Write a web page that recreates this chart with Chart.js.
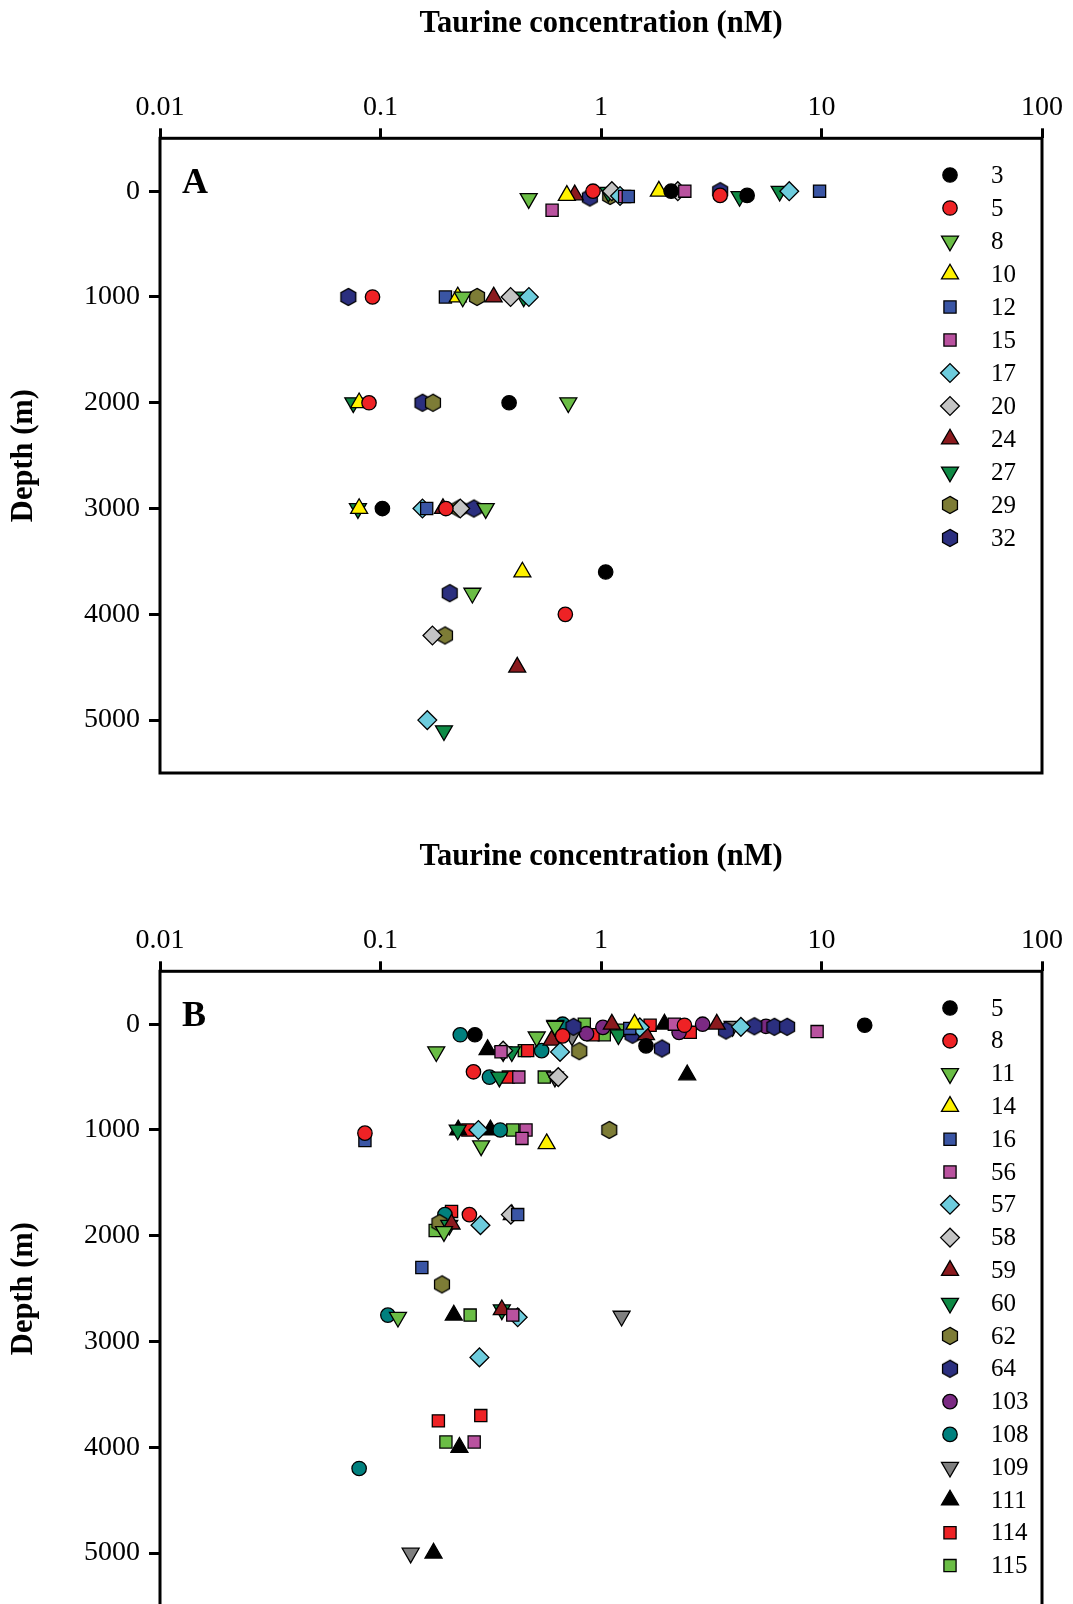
<!DOCTYPE html>
<html><head><meta charset="utf-8">
<script src="https://cdn.jsdelivr.net/npm/chart.js@4"></script>
<style>
html,body{margin:0;padding:0;background:#fff;overflow:hidden;width:1073px;height:1604px;}
.wrap{position:absolute;left:0;width:1073px;height:800px;}
canvas{display:block;}
</style></head><body>
<div class="wrap" style="top:0"><canvas id="cA" width="1073" height="800"></canvas></div>
<div class="wrap" style="top:833px"><canvas id="cB" width="1073" height="800"></canvas></div>
<script>
// ---------- axis ticks ----------
const xTickValues = [0.01, 0.1, 1, 10, 100];
const xTickLabels = ['0.01', '0.1', '1', '10', '100'];
const depthTicks = [0, 1000, 2000, 3000, 4000, 5000];
const xTitle = 'Taurine concentration (nM)';
const yTitle = 'Depth (m)';

// ---------- Panel A: [taurine nM, depth m] ----------
const stationsA = ['3','5','8','10','12','15','17','20','24','27','29','32'];
const A_3  = [[2.08,0],[4.6,40],[0.383,2000],[0.102,3000],[1.05,3600]];
const A_5  = [[0.92,0],[3.47,40],[0.092,1000],[0.0887,2000],[0.198,3000],[0.689,4000]];
const A_8  = [[0.47,70],[0.236,1000],[0.711,2000],[0.30,3000],[0.261,3800]];
const A_10 = [[0.70,40],[1.83,0],[0.224,1000],[0.080,2000],[0.080,3000],[0.44,3600]];
const A_12 = [[1.33,50],[9.8,0],[0.197,1000],[0.162,3000]];
const A_15 = [[0.60,180],[1.28,50],[2.40,0]];
const A_17 = [[1.22,45],[7.14,0],[0.471,1000],[0.155,3000],[0.163,5000]];
const A_20 = [[1.12,0],[2.23,0],[0.389,1000],[0.23,3000],[0.172,4200]];
const A_24 = [[0.76,35],[0.326,1000],[0.192,3000],[0.417,4500]];
const A_27 = [[1.08,10],[4.25,50],[6.46,0],[0.446,1000],[0.0753,2000],[0.079,3000],[0.194,5100]];
const A_29 = [[1.10,45],[0.274,1000],[0.173,2000],[0.227,3000],[0.196,4200]];
const A_32 = [[0.89,60],[3.47,0],[0.0715,1000],[0.155,2000],[0.265,3000],[0.206,3800]];
const seriesA = [A_3,A_5,A_8,A_10,A_12,A_15,A_17,A_20,A_24,A_27,A_29,A_32];

// ---------- Panel B ----------
const stationsB = ['5','8','11','14','16','56','57','58','59','60','62','64','103','108','109','111','114','115'];
const B_5   = [[0.268,100],[1.6,205],[15.7,10]];
const B_8   = [[0.67,110],[2.39,10],[0.264,450],[0.085,1030],[0.253,1800]];
const B_11  = [[0.179,260],[0.511,120],[0.62,20],[0.286,1150],[0.194,1960],[0.12,2770]];
const B_14  = [[1.42,0],[0.567,1130]];
const B_16  = [[1.35,40],[0.085,1100],[0.419,1800],[0.154,2300]];
const B_56  = [[0.352,260],[0.424,500],[0.457,1000],[0.438,1080],[2.15,0],[9.55,70],[0.398,2750],[0.266,3950]];
const B_57  = [[0.652,262],[1.5,30],[4.31,25],[0.278,1000],[0.284,1900],[0.419,2770],[0.281,3150]];
const B_58  = [[0.36,250],[0.64,500],[0.39,1800]];
const B_59  = [[0.597,151],[1.12,0],[1.6,100],[3.35,0],[0.394,1800],[0.21,1890],[0.355,2700]];
const B_60  = [[0.394,260],[1.2,100],[0.346,500],[0.224,1000],[0.205,1900],[0.355,2700],[0.62,10]];
const B_62  = [[0.797,255],[1.09,1000],[0.185,1880],[0.19,2460]];
const B_64  = [[0.75,25],[1.39,100],[1.89,230],[3.69,60],[4.96,20],[6.11,25],[6.98,25]];
const B_103 = [[0.86,90],[1.02,30],[2.26,77],[2.89,0],[5.6,20]];
const B_108 = [[0.23,100],[0.538,250],[0.67,0],[0.312,500],[0.349,1000],[0.196,1800],[0.108,2750],[0.08,4200]];
const B_109 = [[0.36,260],[0.739,110],[3.95,20],[0.618,500],[1.24,2760],[0.137,5000]];
const B_111 = [[0.306,240],[1.94,0],[2.46,480],[0.225,1000],[0.315,1000],[0.215,2750],[0.228,4000],[0.174,5000]];
const B_114 = [[0.465,250],[0.38,500],[0.92,100],[1.67,10],[2.54,77],[0.249,1000],[0.21,1770],[0.285,3700],[0.183,3750]];
const B_115 = [[0.449,250],[0.553,500],[0.84,0],[1.035,100],[1.25,57],[0.398,1000],[0.177,1950],[0.255,2750],[0.198,3950]];
const seriesB = [B_5,B_8,B_11,B_14,B_16,B_56,B_57,B_58,B_59,B_60,B_62,B_64,B_103,B_108,B_109,B_111,B_114,B_115];

// ---------- marker styles ----------
const MK = {
  blackCircle:  {shape:'circle', color:'#000000'},
  redCircle:    {shape:'circle', color:'#EE2225'},
  lgDown:       {shape:'down',   color:'#6ABD45'},
  yellowUp:     {shape:'up',     color:'#FFF200'},
  blueSquare:   {shape:'square', color:'#3A55A4'},
  pinkSquare:   {shape:'square', color:'#B9529F'},
  cyanDiamond:  {shape:'diamond',color:'#6DCCDD'},
  grayDiamond:  {shape:'diamond',color:'#C4C4C4'},
  dredUp:       {shape:'up',     color:'#8B1A1E'},
  dgreenDown:   {shape:'down',   color:'#0E8A45'},
  oliveHex:     {shape:'hex',    color:'#7D7C36'},
  navyHex:      {shape:'hex',    color:'#2B2F7F'},
  purpleCircle: {shape:'circle', color:'#7B2A83'},
  tealCircle:   {shape:'circle', color:'#00807E'},
  grayDown:     {shape:'down',   color:'#7F7F7F'},
  blackUp:      {shape:'up',     color:'#000000'},
  redSquare:    {shape:'square', color:'#EE2225'},
  greenSquare:  {shape:'square', color:'#6ABD45'}
};
const stylesA = ['blackCircle','redCircle','lgDown','yellowUp','blueSquare','pinkSquare','cyanDiamond','grayDiamond','dredUp','dgreenDown','oliveHex','navyHex'];
const stylesB = ['blackCircle','redCircle','lgDown','yellowUp','blueSquare','pinkSquare','cyanDiamond','grayDiamond','dredUp','dgreenDown','oliveHex','navyHex','purpleCircle','tealCircle','grayDown','blackUp','redSquare','greenSquare'];

const BW = 1.3;
const hexCache = {};
function hexCanvas(color){
  if (hexCache[color]) return hexCache[color];
  const c = document.createElement('canvas');
  c.width = 22; c.height = 22;
  const g = c.getContext('2d');
  const r = 8.6;
  g.beginPath();
  for (let i = 0; i < 6; i++) {
    const a = -Math.PI/2 + i*Math.PI/3;
    const px = 11 + r*Math.cos(a), py = 11 + r*Math.sin(a);
    if (i === 0) g.moveTo(px, py); else g.lineTo(px, py);
  }
  g.closePath();
  g.fillStyle = color; g.fill();
  g.lineWidth = BW; g.strokeStyle = '#000'; g.stroke();
  hexCache[color] = c;
  return c;
}
function pointOpts(key){
  const m = MK[key];
  switch (m.shape) {
    case 'circle':  return {pointStyle:'circle',   rotation:0,   radius:7.2};
    case 'up':      return {pointStyle:'triangle', rotation:0,   radius:9.8};
    case 'down':    return {pointStyle:'triangle', rotation:180, radius:9.8};
    case 'square':  return {pointStyle:'rect',     rotation:0,   radius:8.6};
    case 'diamond': return {pointStyle:'rectRot',  rotation:0,   radius:9.4};
    case 'hex':     return {pointStyle:hexCanvas(m.color), rotation:0, radius:8.6};
  }
}

const FONT = 'Liberation Serif';

const framePlugin = {
  id: 'frame',
  beforeDatasetsDraw(chart){
    const {ctx, chartArea:a} = chart;
    ctx.save();
    ctx.lineWidth = 3;
    ctx.strokeStyle = '#000';
    ctx.strokeRect(a.left, a.top, a.right - a.left, a.bottom - a.top);
    ctx.restore();
  },
  afterDraw(chart){
    const o = chart.options.plugins.frame;
    const ctx = chart.ctx;
    ctx.save();
    // panel letter
    ctx.fillStyle = '#000';
    ctx.font = 'bold 36px "' + FONT + '"';
    ctx.textAlign = 'left';
    ctx.textBaseline = 'alphabetic';
    ctx.fillText(o.letter, 182, 192.5);
    // legend
    chart.data.datasets.forEach((ds, i) => {
      const y = o.legendTop + i*o.legendStep;
      ctx.fillStyle = ds.backgroundColor;
      ctx.strokeStyle = '#000';
      ctx.lineWidth = BW;
      Chart.helpers.drawPoint(ctx, {pointStyle: ds.pointStyle, rotation: ds.rotation, radius: ds.pointRadius, borderWidth: BW}, 950, y);
      ctx.fillStyle = '#000';
      ctx.font = '25px "' + FONT + '"';
      ctx.textAlign = 'left';
      ctx.textBaseline = 'middle';
      ctx.fillText(ds.label, 991, y + 1);
    });
    ctx.restore();
  }
};

function makeChart(id, letter, stations, series, styles, legendStep){
  const datasets = stations.map((st, i) => {
    const key = styles[i];
    const p = pointOpts(key);
    return {
      label: st,
      data: series[i].map(([x, y]) => ({x, y})),
      backgroundColor: MK[key].color,
      borderColor: '#000',
      borderWidth: BW,
      pointStyle: p.pointStyle,
      rotation: p.rotation,
      pointRadius: p.radius,
      pointHoverRadius: p.radius,
      showLine: false
    };
  });
  return new Chart(document.getElementById(id), {
    type: 'scatter',
    data: {datasets},
    plugins: [framePlugin],
    options: {
      responsive: false,
      animation: false,
      devicePixelRatio: 1,
      layout: {padding: {left: 0, right: 31, top: 0, bottom: 27}},
      plugins: {
        legend: {display: false},
        tooltip: {enabled: false},
        frame: {letter, legendTop: 175, legendStep}
      },
      scales: {
        x: {
          type: 'logarithmic',
          position: 'top',
          min: 0.01, max: 100,
          afterBuildTicks: s => { s.ticks = xTickValues.map(v => ({value: v})); },
          afterFit: s => { s.height = 138.3; },
          border: {display: false},
          grid: {display: true, drawOnChartArea: false, drawTicks: true, tickLength: 10, tickWidth: 3, tickColor: '#000'},
          ticks: {
            autoSkip: false, maxRotation: 0, padding: 4, color: '#000',
            font: {family: FONT, size: 28, lineHeight: 1.2},
            callback: (v, i) => xTickLabels[i]
          },
          title: {display: true, text: xTitle, color: '#000', padding: {top: 6, bottom: 0},
                  font: {family: FONT, size: 30.5, weight: 'bold', lineHeight: 1.2}}
        },
        y: {
          type: 'linear',
          reverse: true,
          min: -500, max: 5500,
          afterBuildTicks: s => { s.ticks = depthTicks.map(v => ({value: v})); },
          afterFit: s => { s.width = 160; },
          border: {display: false},
          grid: {display: true, drawOnChartArea: false, drawTicks: true, tickLength: 11, tickWidth: 3, tickColor: '#000'},
          ticks: {
            autoSkip: false, padding: 9, color: '#000',
            font: {family: FONT, size: 28, lineHeight: 1.2},
            callback: v => String(v)
          },
          title: {display: true, text: yTitle, color: '#000', padding: {top: 6, bottom: 0},
                  font: {family: FONT, size: 30.5, weight: 'bold', lineHeight: 1.2}}
        }
      }
    }
  });
}

makeChart('cA', 'A', stationsA, seriesA, stylesA, 33.0);
makeChart('cB', 'B', stationsB, seriesB, stylesB, 32.8);
</script>
</body></html>
